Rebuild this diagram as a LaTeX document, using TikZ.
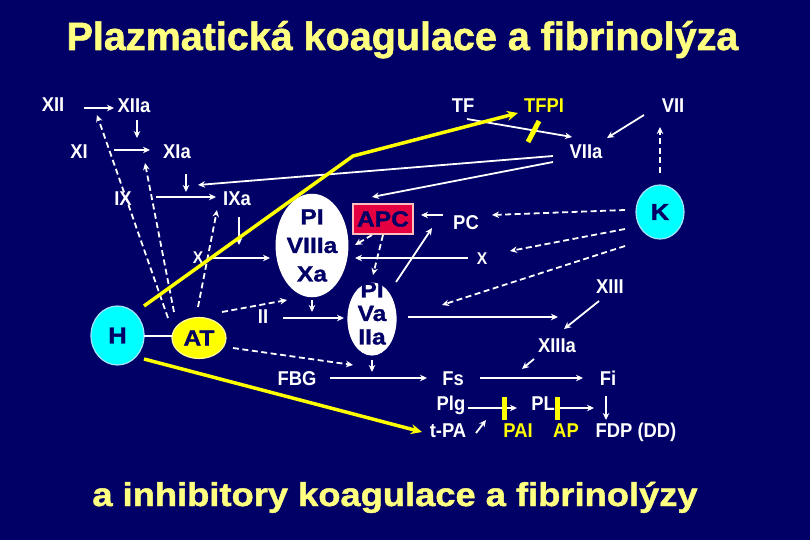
\documentclass[tikz,border=0pt]{standalone}
\usepackage{fontspec}
\setmainfont{Liberation Sans}
\newfontfamily\labf[FakeStretch=0.92]{Liberation Sans}
\newfontfamily\innerfont[FakeStretch=1.12,FakeBold=1.2]{Liberation Sans Bold}
\newfontfamily\titf[FakeBold=1.4]{Liberation Sans Bold}
\newfontfamily\subf[FakeStretch=1.1,FakeBold=1.4]{Liberation Sans Bold}
\usetikzlibrary{arrows.meta,shapes.geometric}
\definecolor{bg}{RGB}{0,0,102}
\definecolor{ttl}{RGB}{255,255,128}
\definecolor{yel}{RGB}{255,255,0}
\definecolor{apcred}{RGB}{228,0,64}
\definecolor{navy}{RGB}{0,0,102}
\definecolor{cyn}{RGB}{0,255,255}
\begin{document}
\begin{tikzpicture}[x=1pt,y=-1pt,
  lab/.style={text=white,font=\labf\bfseries\fontsize{20}{22}\selectfont,inner sep=0pt,anchor=base},
  laby/.style={lab,text=yel},
  labx/.style={lab,font=\labf\bfseries\fontsize{17}{19}\selectfont},
  ell/.style={ellipse,inner sep=0pt,line width=1.2pt,text=navy,align=center},
  intext/.style={text=navy,inner sep=0pt,align=center},
  arr/.style={draw=white,line width=1.8pt,-{Stealth[length=7pt,width=6.5pt]}},
  darr/.style={arr,dash pattern=on 6pt off 3.5pt},
  yarr/.style={draw=yel,line width=3.5pt,-{Stealth[length=11pt,width=10pt]}},
  ybar/.style={draw=yel,line width=5pt}]
\path[use as bounding box] (0,0) rectangle (810,540);
\fill[bg] (0,0) rectangle (810,540);

% titles
\node[text=ttl,font=\titf\fontsize{39.5}{42}\selectfont,inner sep=0pt,anchor=base] (title) at (402.5,50) {Plazmatická koagulace a fibrinolýza};
\node[text=ttl,font=\subf\fontsize{33}{36}\selectfont,inner sep=0pt,anchor=base] (sub) at (395,506) {a inhibitory koagulace a fibrinolýzy};

% labels
\node[lab] (XII) at (53,112) {XII};
\node[lab] (XIIa) at (134,113) {XIIa};
\node[lab] (XI) at (79,159) {XI};
\node[lab] (XIa) at (177,159) {XIa};
\node[lab] (IX) at (123,205) {IX};
\node[lab] (IXa) at (237,205) {IXa};
\node[labx] (Xl) at (198,263) {X};
\node[lab] (II) at (263,323) {II};
\node[lab] (FBG) at (297,385) {FBG};
\node[lab] (Fs) at (453,385) {Fs};
\node[lab] (Plg) at (451,410) {Plg};
\node[lab] (tPA) at (448,437) {t-PA};
\node[laby] (PAI) at (518,437) {PAI};
\node[laby] (AP) at (566,437) {AP};
\node[lab] (FDP) at (636,437) {FDP (DD)};
\node[lab] (PL) at (543,410) {PL};
\node[lab] (Fi) at (608,385) {Fi};
\node[lab] (XIII) at (610,293) {XIII};
\node[lab] (XIIIa) at (557,352) {XIIIa};
\node[lab] (PC) at (466,229) {PC};
\node[labx] (Xr) at (482,264) {X};
\node[lab] (TF) at (463,113) {TF};
\node[laby] (TFPI) at (544,113) {TFPI};
\node[lab] (VII) at (673,113) {VII};
\node[lab] (VIIa) at (586,159) {VIIa};

% shapes
\node[ell,fill=cyn,draw=cyan!35!white,minimum width=53pt,minimum height=59pt,font=\innerfont\fontsize{23}{25}\selectfont] (H) at (117.5,335.5) {H};
\node[ell,fill=yel,draw=yellow!40!white,minimum width=54pt,minimum height=41pt,font=\innerfont\fontsize{22}{24}\selectfont] (AT) at (199,338) {AT};
\node[ell,fill=cyn,draw=cyan!35!white,minimum width=48pt,minimum height=54pt,font=\innerfont\fontsize{23}{25}\selectfont] (K) at (660,212) {K};
\node[ell,fill=white,draw=white,minimum width=62pt,minimum height=96pt,font=\innerfont\fontsize{22}{28.5}\selectfont] (PVIII) at (312,245.5) {PI\\VIIIa\\Xa};
\node[ell,fill=white,draw=white,minimum width=48pt,minimum height=72pt] (PVa) at (372,319) {};
\node[intext,font=\innerfont\fontsize{22}{23.5}\selectfont] (PVatxt) at (372,313.5) {PI\\Va\\IIa};
\node[rectangle,fill=apcred,draw=red!25!white,line width=1.5pt,minimum width=60pt,minimum height=30pt,inner sep=0pt,text=navy,font=\innerfont\fontsize{22}{24}\selectfont] (APC) at (383,219) {APC};

% coordinates for connector ends
\coordinate (a1s) at (84,108);   \coordinate (a1e) at (114,108);
\coordinate (a2s) at (137,120);  \coordinate (a2e) at (137,138);
\coordinate (a3s) at (114,150);  \coordinate (a3e) at (150,150);
\coordinate (a4s) at (186,174);  \coordinate (a4e) at (186,192);
\coordinate (a5s) at (156,197);  \coordinate (a5e) at (216,197);
\coordinate (a6s) at (553,156);  \coordinate (a6e) at (198,185);
\coordinate (a7s) at (553,162);  \coordinate (a7e) at (372,197);
\coordinate (a8s) at (239,217);  \coordinate (a8e) at (239,245);
\coordinate (a9s) at (212,258);  \coordinate (a9e) at (270,258);
\coordinate (a10s) at (283,318); \coordinate (a10e) at (344,318);
\coordinate (a11s) at (312,300); \coordinate (a11e) at (312,312);
\coordinate (a12s) at (372,360); \coordinate (a12e) at (372,372);
\coordinate (a13s) at (330,378); \coordinate (a13e) at (427,378);
\coordinate (a14s) at (408,317); \coordinate (a14e) at (558,317);
\coordinate (a15s) at (599,301); \coordinate (a15e) at (564,329);
\coordinate (a16s) at (534,359); \coordinate (a16e) at (522,369);
\coordinate (a17s) at (480,378); \coordinate (a17e) at (583,378);
\coordinate (a18s) at (468,408); \coordinate (a18e) at (517,408);
\coordinate (a19s) at (560,408); \coordinate (a19e) at (594,408);
\coordinate (a20s) at (606,396); \coordinate (a20e) at (606,420);
\coordinate (a21s) at (476,433); \coordinate (a21e) at (486,420);
\coordinate (a22s) at (443,215); \coordinate (a22e) at (421,215);
\coordinate (a23s) at (468,258); \coordinate (a23e) at (355,258);
\coordinate (a24s) at (396,282); \coordinate (a24e) at (432,228);
\coordinate (a25s) at (467,119); \coordinate (a25e) at (572,137);
\coordinate (a26s) at (644,115); \coordinate (a26e) at (607,138);
\coordinate (hs) at (144,336);   \coordinate (he) at (172,336);
% dashed
\coordinate (d1s) at (168,318); \coordinate (d1e) at (97,115);
\coordinate (d2s) at (174,312); \coordinate (d2e) at (145,163);
\coordinate (d3s) at (198,307); \coordinate (d3e) at (217,210);
\coordinate (d4s) at (222,312); \coordinate (d4e) at (287,300);
\coordinate (d5s) at (233,348); \coordinate (d5e) at (353,365);
\coordinate (d6s) at (372,235); \coordinate (d6e) at (355,245);
\coordinate (d7s) at (383,235); \coordinate (d7e) at (373,275);
\coordinate (d8s) at (625,210); \coordinate (d8e) at (492,215);
\coordinate (d9s) at (625,229); \coordinate (d9e) at (510,251);
\coordinate (d10s) at (625,246); \coordinate (d10e) at (442,305);
\coordinate (d11s) at (660,173); \coordinate (d11e) at (660,127);
% yellow
\coordinate (y1s) at (144,306); \coordinate (y1m) at (353,156); \coordinate (y1e) at (518,113);
\coordinate (y2s) at (144,359); \coordinate (y2e) at (422,432);
\coordinate (b1s) at (539,121); \coordinate (b1e) at (528,142);
\coordinate (b2s) at (504,397); \coordinate (b2e) at (504,420);
\coordinate (b3s) at (557,397); \coordinate (b3e) at (557,420);

% solid white connectors
\foreach \n in {a1,a2,a3,a4,a5,a6,a7,a8,a9,a10,a11,a12,a13,a14,a15,a16,a17,a18,a19,a20,a21,a22,a23,a24,a25,a26}
  \draw[arr] (\n s) -- (\n e);
\draw[draw=white,line width=1.8pt] (hs) -- (he);
% dashed connectors
\foreach \n in {d1,d2,d3,d4,d5,d6,d7,d8,d9,d10,d11}
  \draw[darr] (\n s) -- (\n e);
% yellow
\draw[yarr] (y1s) -- (y1m) -- (y1e);
\draw[yarr] (y2s) -- (y2e);
\draw[ybar] (b1s) -- (b1e);
\draw[ybar] (b2s) -- (b2e);
\draw[ybar] (b3s) -- (b3e);
\end{tikzpicture}
\end{document}
